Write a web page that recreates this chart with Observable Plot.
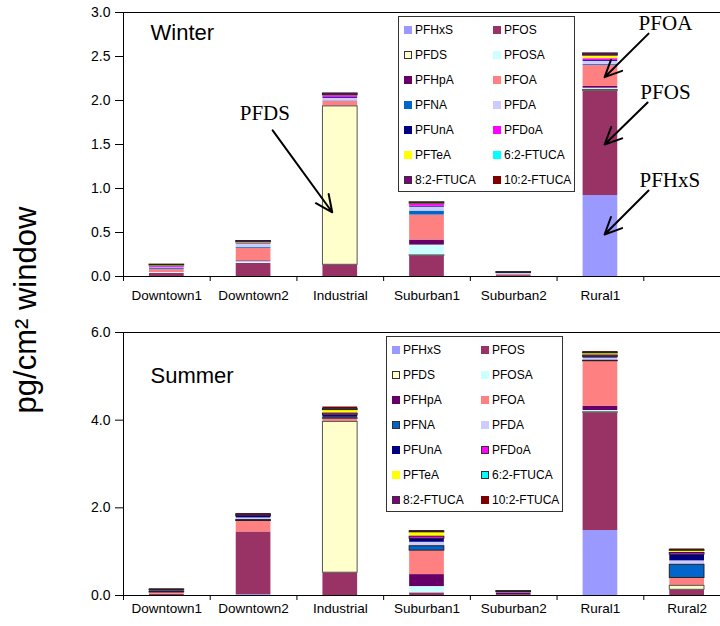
<!DOCTYPE html>
<html><head><meta charset="utf-8">
<script src="https://cdn.jsdelivr.net/npm/d3@7"></script>
<script src="https://cdn.jsdelivr.net/npm/@observablehq/plot@0.6"></script>
<style>
html,body{margin:0;padding:0;background:#fff;overflow:hidden}
#root{position:relative;width:720px;height:626px;font-family:"Liberation Sans",Arial,sans-serif;color:#000}
.panel{position:absolute;left:0}
.legend{position:absolute;border:1px solid #333;background:#fff;box-sizing:border-box}
.item{position:absolute;display:flex;align-items:center;font-size:12px;line-height:12px;white-space:nowrap;transform:translateY(-50%)}
.sw{width:8px;height:8px;box-sizing:border-box;margin-right:3px}
#ylab{position:absolute;left:26px;top:310px;transform:translate(-50%,-50%) rotate(-90deg);font-size:31px;white-space:nowrap}
</style></head><body><div id="root"></div>
<script>
const sites = ["Downtown1","Downtown2","Industrial","Suburban1","Suburban2","Rural1","Rural2"];
const compounds = ["PFHxS","PFOS","PFDS","PFOSA","PFHpA","PFOA","PFNA","PFDA","PFUnA","PFDoA","PFTeA","6:2-FTUCA","8:2-FTUCA","10:2-FTUCA"];
const colors = ["#9999FF","#993366","#FFFFCC","#CCFFFF","#660066","#FF8080","#0066CC","#CCCCFF","#000080","#FF00FF","#FFFF00","#00FFFF","#800080","#800000"];

// Winter values: one row per compound, columns = Downtown1..Rural1
const winterValues = [
  [0,     0,     0,     0,     0,     0.92 ],
  [0.035, 0.148, 0.133, 0.235, 0.01,  1.19 ],
  [0,     0,     1.80,  0.005, 0,     0.01 ],
  [0.01,  0.02,  0,     0.117, 0,     0.02 ],
  [0,     0.01,  0,     0.057, 0,     0.02 ],
  [0.035, 0.14,  0.057, 0.284, 0.01,  0.24 ],
  [0.01,  0.01,  0.005, 0.045, 0.005, 0.01 ],
  [0.01,  0.04,  0.03,  0.045, 0.01,  0.035],
  [0.005, 0.005, 0.01,  0.01,  0,     0.01 ],
  [0.01,  0.005, 0.02,  0.02,  0,     0.02 ],
  [0.01,  0.01,  0.005, 0.01,  0.005, 0.035],
  [0,     0,     0,     0,     0,     0    ],
  [0.01,  0.015, 0.02,  0.015, 0.01,  0.025],
  [0,     0,     0,     0,     0,     0    ]
];
// Summer values: one row per compound, columns = Downtown1..Rural2
const summerValues = [
  [0,     0.02, 0,     0,     0,    1.48,  0   ],
  [0.03,  1.43, 0.52,  0.06,  0.02, 2.69,  0.13],
  [0,     0,    3.44,  0,     0,    0.01,  0.09],
  [0,     0,    0,     0.144, 0,    0.04,  0   ],
  [0,     0,    0,     0.273, 0.03, 0.10,  0   ],
  [0.04,  0.25, 0.075, 0.547, 0.01, 1.025, 0.18],
  [0.01,  0.02, 0.01,  0.10,  0,    0.01,  0.30],
  [0.02,  0.05, 0.02,  0.09,  0,    0.06,  0.09],
  [0.02,  0.04, 0.045, 0.077, 0.02, 0.03,  0.14],
  [0,     0,    0.04,  0.05,  0,    0.03,  0.04],
  [0,     0,    0.08,  0.10,  0,    0.05,  0.05],
  [0,     0,    0,     0,     0,    0,     0   ],
  [0.015, 0.04, 0.03,  0.02,  0.02, 0.02,  0.02],
  [0.015, 0.02, 0.04,  0.02,  0.01, 0.02,  0.02]
];
const winterBordered = ["PFDS","8:2-FTUCA"];
const summerBordered = ["PFDS","PFNA","PFDoA","6:2-FTUCA","8:2-FTUCA"];
const winterTicks = [0, 0.5, 1, 1.5, 2, 2.5, 3];
const summerTicks = [0, 2, 4, 6];
// annotation label positions and arrows, in data units (x = site index, y = value)
const winterNotes = [
  {label: "PFDS",  tx: 1.13, ty: 1.85,  x1: 1.22, y1: 1.66,  x2: 1.907, y2: 0.73},
  {label: "PFOA",  tx: 5.75, ty: 2.875, x1: 5.555, y1: 2.76, x2: 5.048, y2: 2.265},
  {label: "PFOS",  tx: 5.75, ty: 2.09,  x1: 5.544, y1: 1.977, x2: 5.048, y2: 1.5},
  {label: "PFHxS", tx: 5.80, ty: 1.09,  x1: 5.555, y1: 0.977, x2: 5.048, y2: 0.477}
];

function stackRows(values, bordered) {
  const rows = [];
  const nSites = values[0].length;
  for (let i = 0; i < nSites; i++) {
    let acc = 0;
    compounds.forEach((c, k) => {
      const v = values[k][i];
      if (v > 0) rows.push({i, site: sites[i], compound: c, y1: acc, y2: acc + v, color: colors[k], bordered: bordered.includes(c)});
      acc += v;
    });
  }
  return rows;
}

function panel({values, bordered, yMax, ticks, fmt, title, titleDy, notes, height, marginTop, marginBottom, labelPad}) {
  const rows = stackRows(values, bordered);
  const nSites = values[0].length;
  const barOpts = {x1: d => d.i - 0.2, x2: d => d.i + 0.2, y1: "y1", y2: "y2", fill: "color"};
  return Plot.plot({
    width: 720, height, marginLeft: 123, marginRight: -10, marginTop, marginBottom,
    x: {type: "linear", domain: [-0.5, 6.5]},
    y: {domain: [0, yMax]},
    color: {type: "identity"},
    style: {fontFamily: '"Liberation Sans", Arial, sans-serif', fontSize: "13.5px", color: "black", background: "transparent", overflow: "hidden"},
    marks: [
      Plot.rect(rows.filter(d => !d.bordered), barOpts),
      Plot.rect(rows.filter(d => d.bordered), {...barOpts, stroke: d => d.compound === "PFDS" ? "#555" : "#222", strokeWidth: 1}),
      Plot.ruleY([0, yMax], {stroke: "black"}),
      Plot.ruleX([-0.5], {stroke: "black"}),
      Plot.axisY(ticks, {tickFormat: fmt, tickSize: 8, tickPadding: 5, fontSize: 14, label: null}),
      Plot.axisX(d3.range(nSites), {tickFormat: i => sites[i], tickSize: 0, tickPadding: labelPad, fontSize: 13.5, label: null}),
      Plot.axisX(d3.range(-0.5, 7, 1), {tickFormat: () => "", tickSize: 5, label: null}),
      Plot.text([title], {frameAnchor: "top-left", dx: 27, dy: titleDy, fontSize: 22, textAnchor: "start", lineAnchor: "middle"}),
      Plot.arrow(notes, {x1: "x1", y1: "y1", x2: "x2", y2: "y2", stroke: "black", strokeWidth: 2, headLength: 14, headAngle: 50}),
      Plot.text(notes, {x: "tx", y: "ty", text: "label", fontFamily: '"Liberation Serif", "Times New Roman", serif', fontSize: 21})
    ]
  });
}

function legend(bordered, left, top) {
  const box = document.createElement("div");
  box.className = "legend";
  box.style.left = left + "px"; box.style.top = top + "px";
  box.style.width = "177px"; box.style.height = "176px";
  compounds.forEach((c, k) => {
    const row = Math.floor(k / 2), col = k % 2;
    const it = document.createElement("div");
    it.className = "item";
    it.style.left = (5 + col * 89) + "px";
    it.style.top = (13 + row * 25) + "px";
    const sw = document.createElement("span");
    sw.className = "sw";
    sw.style.background = colors[k];
    if (bordered.includes(c)) sw.style.border = "1px solid #333";
    const tx = document.createElement("span");
    tx.textContent = c;
    it.append(sw, tx);
    box.append(it);
  });
  return box;
}

const root = document.getElementById("root");
const w = panel({values: winterValues, bordered: winterBordered, yMax: 3, ticks: winterTicks, fmt: d3.format(".1f"),
  title: "Winter", titleDy: 20, notes: winterNotes, height: 310, marginTop: 12, marginBottom: 34, labelPad: 14});
w.classList.add("panel"); w.style.top = "0px";
const s = panel({values: summerValues, bordered: summerBordered, yMax: 6, ticks: summerTicks, fmt: d3.format(".1f"),
  title: "Summer", titleDy: 43, notes: [], height: 316, marginTop: 22, marginBottom: 31, labelPad: 8});
s.classList.add("panel"); s.style.top = "310px";
root.append(w, s);
root.append(legend(winterBordered, 398, 16));
root.append(legend(summerBordered, 386, 336));
const yl = document.createElement("div");
yl.id = "ylab";
yl.innerHTML = "pg/cm² window";
root.append(yl);
</script></body></html>
